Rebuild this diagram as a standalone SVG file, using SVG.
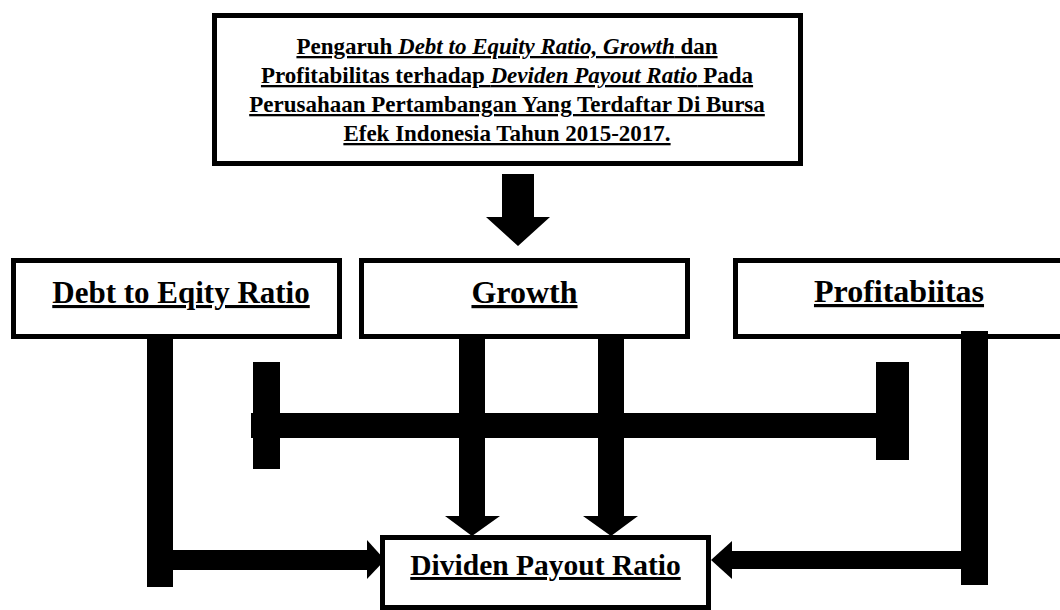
<svg xmlns="http://www.w3.org/2000/svg" width="1060" height="610" viewBox="0 0 1060 610">
  <style>
    .box { fill: #fff; stroke: #000; stroke-width: 5; }
    .title { font-family: "Liberation Serif", "Times New Roman", serif; font-weight: bold; font-size: 23px; text-anchor: middle; text-decoration: underline; text-decoration-thickness: 2px; text-underline-offset: 3px; fill: #000; }
    .label { font-family: "Liberation Serif", "Times New Roman", serif; font-weight: bold; font-size: 32px; text-anchor: middle; text-decoration: underline; text-decoration-thickness: 3px; text-underline-offset: 4px; fill: #000; }
    .it { font-style: italic; }
    .bar { fill: #000; }
  </style>
  <rect width="1060" height="610" fill="#fff"/>

  <g id="node-title">
    <rect class="box" x="214.5" y="15.5" width="586" height="148"/>
    <text class="title" x="507" y="54">Pengaruh <tspan class="it">Debt to Equity Ratio, Growth</tspan> dan</text>
    <text class="title" x="507" y="83">Profitabilitas terhadap <tspan class="it">Deviden Payout Ratio</tspan> Pada</text>
    <text class="title" x="507" y="112">Perusahaan Pertambangan Yang Terdaftar Di Bursa</text>
    <text class="title" x="507" y="141">Efek Indonesia Tahun 2015-2017.</text>
  </g>

  <g id="node-der">
    <rect class="box" x="13.5" y="260.5" width="326" height="76"/>
    <text class="label" x="181" y="303" style="font-size:31px">Debt to Eqity Ratio</text>
  </g>

  <g id="node-growth">
    <rect class="box" x="361.5" y="260.5" width="326" height="76"/>
    <text class="label" x="524.5" y="303">Growth</text>
  </g>

  <g id="node-profit">
    <rect class="box" x="735.5" y="260.5" width="328" height="76"/>
    <text class="label" x="899" y="302">Profitabiitas</text>
  </g>

  <g id="node-dpr">
    <rect class="box" x="382.5" y="537.5" width="326" height="70"/>
    <text class="label" x="545.5" y="575" style="font-size:29.5px">Dividen Payout Ratio</text>
  </g>

  <g id="connectors">
    <!-- title to variables -->
    <polygon class="bar" points="502,174 534,174 534,217 550,217 518,246 486,217 502,217"/>
    <!-- DER to DPR -->
    <rect class="bar" x="147" y="334" width="26" height="253"/>
    <rect class="bar" x="173" y="550" width="195" height="20"/>
    <polygon class="bar" points="367,540 385,560 367,579"/>
    <!-- Growth to DPR -->
    <polygon class="bar" points="459,337 485,337 485,516 500,516 472,536 445,516 459,516"/>
    <polygon class="bar" points="598,337 624,337 624,516 638,516 611,536 583,516 598,516"/>
    <!-- Profitabilitas to DPR -->
    <rect class="bar" x="961" y="331" width="27" height="254"/>
    <rect class="bar" x="731" y="551" width="231" height="18"/>
    <polygon class="bar" points="732,541 711,560 732,579"/>
    <!-- interaction bar -->
    <rect class="bar" x="251" y="413" width="626" height="25"/>
    <rect class="bar" x="253" y="362" width="27" height="107"/>
    <rect class="bar" x="876" y="362" width="33" height="98"/>
  </g>
</svg>
